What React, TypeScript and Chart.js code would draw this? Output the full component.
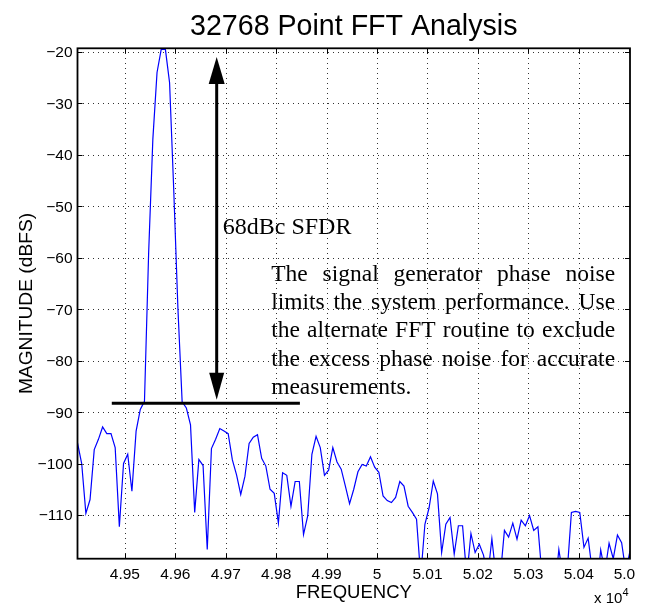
import React, { useEffect, useRef } from 'react';
import { Chart, registerables } from 'chart.js';

Chart.register(...registerables);

const TITLE = '32768 Point FFT Analysis';
const X_LABEL = 'FREQUENCY';
const Y_LABEL = 'MAGNITUDE (dBFS)';
const X_EXPONENT_BASE = 'x 10';
const X_EXPONENT = '4';

// FFT bin frequencies (133 bins shown)
const FREQS = [
  49406.0, 49414.3, 49422.6, 49430.9, 49439.2, 49447.5, 49455.8, 49464.1, 49472.4, 49480.7,
  49489.0, 49497.3, 49505.6, 49513.9, 49522.2, 49530.5, 49538.8, 49547.1, 49555.4, 49563.7,
  49572.0, 49580.3, 49588.6, 49596.9, 49605.2, 49613.5, 49621.8, 49630.1, 49638.4, 49646.7,
  49655.0, 49663.3, 49671.6, 49679.9, 49688.2, 49696.5, 49704.8, 49713.1, 49721.4, 49729.7,
  49738.0, 49746.3, 49754.6, 49762.9, 49771.2, 49779.5, 49787.8, 49796.1, 49804.4, 49812.7,
  49821.0, 49829.3, 49837.6, 49845.9, 49854.2, 49862.5, 49870.8, 49879.1, 49887.4, 49895.7,
  49904.0, 49912.3, 49920.6, 49928.9, 49937.2, 49945.5, 49953.8, 49962.1, 49970.4, 49978.7,
  49987.0, 49995.3, 50003.6, 50011.9, 50020.2, 50028.5, 50036.8, 50045.1, 50053.4, 50061.7,
  50070.0, 50078.3, 50086.6, 50094.9, 50103.2, 50111.5, 50119.8, 50128.1, 50136.4, 50144.7,
  50153.0, 50161.3, 50169.6, 50177.9, 50186.2, 50194.5, 50202.8, 50211.1, 50219.4, 50227.7,
  50236.0, 50244.3, 50252.6, 50260.9, 50269.2, 50277.5, 50285.8, 50294.1, 50302.4, 50310.7,
  50319.0, 50327.3, 50335.6, 50343.9, 50352.2, 50360.5, 50368.8, 50377.1, 50385.4, 50393.7,
  50402.0, 50410.3, 50418.6, 50426.9, 50435.2, 50443.5, 50451.8, 50460.1, 50468.4, 50476.7,
  50485.0, 50493.3, 50501.6,
];

// Magnitude in dBFS
const MAGNITUDE_DBFS = [
  -96, -100, -109.7, -107, -97.3, -95.3, -92.9, -94.2, -94.2, -96.9,
  -112.3, -100, -98.2, -105.4, -93.7, -89.5, -87.9, -59, -37, -24,
  -19.5, -19.5, -26, -47, -70, -88, -89.2, -92.5, -109.5, -99.2,
  -100.4, -116.7, -97.1, -95.3, -93.2, -93.7, -94.2, -99.3, -102.2, -106,
  -102.5, -96.1, -94.9, -94.4, -99, -100.5, -105, -105.8, -111.6, -101.8,
  -102.3, -108.3, -103.5, -103.5, -113.8, -110.2, -98.2, -94.7, -96.9, -102.3,
  -101.3, -96.9, -99.7, -101.1, -104.4, -107.8, -105, -101.6, -100.2, -100.5,
  -98.7, -100.7, -101.7, -106.3, -107.2, -107.6, -106.6, -103.5, -104.4, -108.3,
  -109.5, -110.8, -122, -111.8, -108.6, -103.4, -105.9, -117.3, -111.8, -110.5,
  -117.6, -112.1, -112.1, -122, -113.6, -117.3, -115.7, -117.8, -122, -114.6,
  -122, -122, -113, -114.3, -111.6, -114.7, -111, -112.1, -110.1, -113,
  -112.3, -122, -124, -122, -125, -116.7, -122, -121, -109.5, -109.3,
  -109.5, -116.3, -114.5, -121, -125, -116.8, -121, -115.5, -118.5, -113.9,
  -115.4, -121, -117,
];

const X_MIN = 49406;
const X_MAX = 50501.6;
const Y_MIN = -118.5;
const Y_MAX = -19.3;

const X_TICKS = [49500, 49600, 49700, 49800, 49900, 50000, 50100, 50200, 50300, 50400, 50500];
const X_TICK_LABELS = ['4.95', '4.96', '4.97', '4.98', '4.99', '5', '5.01', '5.02', '5.03', '5.04', '5.0'];
const Y_TICKS = [-110, -100, -90, -80, -70, -60, -50, -40, -30, -20];
const Y_TICK_LABELS = ['\u2212110', '\u2212100', '\u221290', '\u221280', '\u221270', '\u221260', '\u221250', '\u221240', '\u221230', '\u221220'];

// Annotation (data units)
const SFDR_LEVEL = -88.3;
const SFDR_LINE_FROM = 49474;
const SFDR_LINE_TO = 49847;
const ARROW_FREQ = 49682;
const ARROW_TOP = -21;
const ARROW_BOTTOM = -87.6;
const SFDR_TEXT = '68dBc SFDR';
const SFDR_TEXT_POS = { x: 49694, y: -55.3 };
const NOTE_LINES = [
  'The signal generator phase noise',
  'limits the system performance. Use',
  'the alternate FFT routine to exclude',
  'the excess phase noise for accurate',
  'measurements.',
];
const NOTE_LEFT = 49790;
const NOTE_RIGHT = 50472;
const NOTE_FIRST_BASELINE = -64.5;

const SANS = "'Liberation Sans', Arial, Helvetica, sans-serif";
const SERIF = "'Liberation Serif', 'Times New Roman', Times, serif";

const matlabPlugin = {
  id: 'matlabFrame',
  beforeDraw(chart: any) {
    const ctx = chart.ctx;
    ctx.save();
    ctx.fillStyle = '#ffffff';
    ctx.fillRect(0, 0, chart.width, chart.height);
    ctx.restore();
  },
  beforeDatasetsDraw(chart: any) {
    const ctx = chart.ctx;
    const a = chart.chartArea;
    const xs = chart.scales.x;
    const ys = chart.scales.y;
    const L = Math.round(a.left);
    const R = Math.round(a.right);
    const T = Math.round(a.top);
    const B = Math.round(a.bottom);
    ctx.save();
    ctx.strokeStyle = '#333333';
    ctx.lineWidth = 1;
    ctx.setLineDash([1, 4]);
    X_TICKS.forEach((v) => {
      const px = Math.round(xs.getPixelForValue(v)) + 0.5;
      if (px < a.left + 2 || px > a.right - 2) return;
      ctx.beginPath();
      ctx.moveTo(px, T);
      ctx.lineTo(px, B);
      ctx.stroke();
    });
    Y_TICKS.forEach((v) => {
      const py = Math.round(ys.getPixelForValue(v)) + 0.5;
      if (py < a.top + 2 || py > a.bottom - 2) return;
      ctx.beginPath();
      ctx.moveTo(L, py);
      ctx.lineTo(R, py);
      ctx.stroke();
    });
    ctx.restore();
  },
  afterDatasetsDraw(chart: any) {
    const ctx = chart.ctx;
    const a = chart.chartArea;
    const xs = chart.scales.x;
    const ys = chart.scales.y;
    ctx.save();
    // inner ticks
    ctx.strokeStyle = '#000000';
    ctx.lineWidth = 1;
    const tl = 5;
    X_TICKS.forEach((v) => {
      const px = Math.round(xs.getPixelForValue(v)) + 0.5;
      ctx.beginPath();
      ctx.moveTo(px, a.bottom);
      ctx.lineTo(px, a.bottom - tl);
      ctx.moveTo(px, a.top);
      ctx.lineTo(px, a.top + tl);
      ctx.stroke();
    });
    Y_TICKS.forEach((v) => {
      const py = Math.round(ys.getPixelForValue(v)) + 0.5;
      ctx.beginPath();
      ctx.moveTo(a.left, py);
      ctx.lineTo(a.left + tl, py);
      ctx.moveTo(a.right, py);
      ctx.lineTo(a.right - tl, py);
      ctx.stroke();
    });
    // box
    ctx.lineWidth = 1.8;
    ctx.strokeRect(a.left, a.top, a.right - a.left, a.bottom - a.top);

    // tick labels
    ctx.fillStyle = '#000000';
    ctx.font = `15.5px ${SANS}`;
    ctx.textAlign = 'center';
    ctx.textBaseline = 'alphabetic';
    X_TICKS.forEach((v, i) => {
      const px = xs.getPixelForValue(v);
      const label = X_TICK_LABELS[i];
      if (i === X_TICKS.length - 1) {
        ctx.textAlign = 'left';
        ctx.fillText(label, px - 15.5, a.bottom + 20.5);
        ctx.textAlign = 'center';
      } else {
        ctx.fillText(label, px, a.bottom + 20.5);
      }
    });
    ctx.textAlign = 'right';
    Y_TICKS.forEach((v, i) => {
      const py = ys.getPixelForValue(v);
      ctx.fillText(Y_TICK_LABELS[i], a.left - 5, py + 5.5);
    });

    // axis titles
    const cx = (a.left + a.right) / 2;
    const cy = (a.top + a.bottom) / 2;
    ctx.textAlign = 'center';
    ctx.font = `18.5px ${SANS}`;
    ctx.fillText(X_LABEL, cx, a.bottom + 39.5);
    ctx.save();
    ctx.font = `19.2px ${SANS}`;
    ctx.translate(a.left - 46, cy);
    ctx.rotate(-Math.PI / 2);
    ctx.fillText(Y_LABEL, 0, 0);
    ctx.restore();

    // exponent
    ctx.textAlign = 'left';
    ctx.font = `15px ${SANS}`;
    ctx.fillText(X_EXPONENT_BASE, a.right - 36, a.bottom + 44);
    ctx.font = `11px ${SANS}`;
    ctx.fillText(X_EXPONENT, a.right - 7.5, a.bottom + 37);

    // title
    ctx.textAlign = 'center';
    ctx.font = `28.6px ${SANS}`;
    ctx.fillText(TITLE, cx, 34.5);

    // SFDR annotation: horizontal line
    ctx.strokeStyle = '#000000';
    ctx.lineWidth = 3;
    const ly = ys.getPixelForValue(SFDR_LEVEL);
    ctx.beginPath();
    ctx.moveTo(xs.getPixelForValue(SFDR_LINE_FROM), ly);
    ctx.lineTo(xs.getPixelForValue(SFDR_LINE_TO), ly);
    ctx.stroke();

    // double arrow
    const ax = xs.getPixelForValue(ARROW_FREQ);
    const at = ys.getPixelForValue(ARROW_TOP);
    const ab = ys.getPixelForValue(ARROW_BOTTOM);
    const headH = 27;
    const headW = 8;
    ctx.beginPath();
    ctx.moveTo(ax, at + headH - 1);
    ctx.lineTo(ax, ab - headH + 1);
    ctx.stroke();
    ctx.fillStyle = '#000000';
    ctx.beginPath();
    ctx.moveTo(ax, at);
    ctx.lineTo(ax - headW, at + headH);
    ctx.lineTo(ax + headW, at + headH);
    ctx.closePath();
    ctx.fill();
    ctx.beginPath();
    ctx.moveTo(ax, ab);
    ctx.lineTo(ax - headW + 0.5, ab - headH);
    ctx.lineTo(ax + headW - 0.5, ab - headH);
    ctx.closePath();
    ctx.fill();

    // SFDR text
    ctx.font = `24px ${SERIF}`;
    ctx.textAlign = 'left';
    ctx.fillText(SFDR_TEXT, xs.getPixelForValue(SFDR_TEXT_POS.x), ys.getPixelForValue(SFDR_TEXT_POS.y));

    // justified note
    ctx.font = `23.5px ${SERIF}`;
    const left = xs.getPixelForValue(NOTE_LEFT);
    const right = xs.getPixelForValue(NOTE_RIGHT);
    let y = ys.getPixelForValue(NOTE_FIRST_BASELINE);
    const lineH = 28.3;
    NOTE_LINES.forEach((line, li) => {
      const words = line.split(' ');
      if (li === NOTE_LINES.length - 1 || words.length < 2) {
        ctx.fillText(line, left, y);
      } else {
        const widths = words.map((w) => ctx.measureText(w).width);
        const total = widths.reduce((s, w) => s + w, 0);
        const gap = (right - left - total) / (words.length - 1);
        let x = left;
        words.forEach((w, wi) => {
          ctx.fillText(w, x, y);
          x += widths[wi] + gap;
        });
      }
      y += lineH;
    });
    ctx.restore();
  },
};

export default function App() {
  const canvasRef = useRef<HTMLCanvasElement | null>(null);

  useEffect(() => {
    document.body.style.margin = '0';
    const canvas = canvasRef.current;
    if (!canvas) return;
    const data = FREQS.map((f, i) => ({ x: f, y: MAGNITUDE_DBFS[i] }));
    const chart = new Chart(canvas, {
      type: 'line',
      data: {
        datasets: [
          {
            data,
            borderColor: '#0000ff',
            borderWidth: 1.2,
            pointRadius: 0,
            tension: 0,
            fill: false,
            clip: 0,
          } as any,
        ],
      },
      options: {
        responsive: false,
        animation: false,
        devicePixelRatio: 1,
        parsing: false,
        normalized: true,
        layout: { padding: { left: 77.5, right: 15, top: 48.3, bottom: 48.3 } },
        plugins: {
          legend: { display: false },
          tooltip: { enabled: false },
          title: { display: false },
        },
        scales: {
          x: { type: 'linear', display: false, min: X_MIN, max: X_MAX },
          y: { type: 'linear', display: false, min: Y_MIN, max: Y_MAX },
        },
      } as any,
      plugins: [matlabPlugin],
    });
    return () => chart.destroy();
  }, []);

  return (
    <div style={{ width: 645, height: 607 }}>
      <canvas ref={canvasRef} width={645} height={607} style={{ display: 'block' }} />
    </div>
  );
}
